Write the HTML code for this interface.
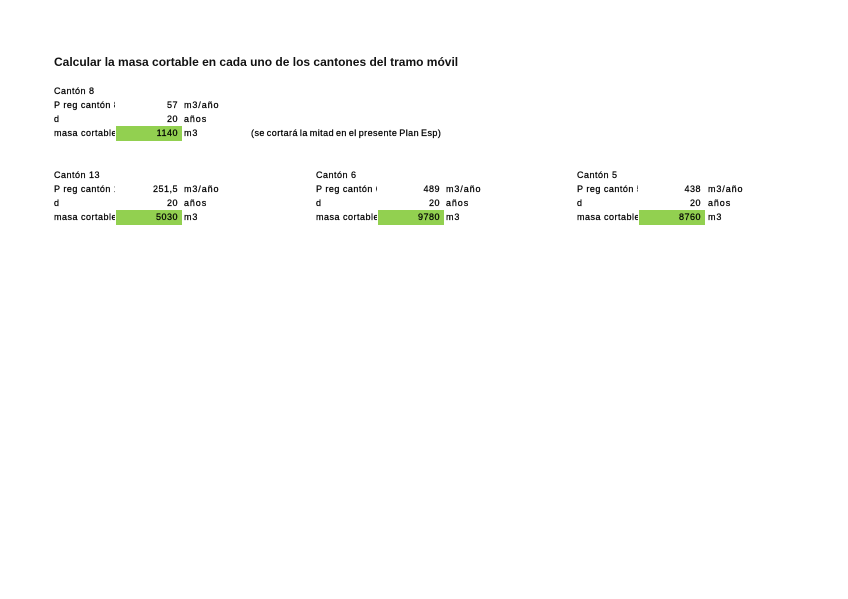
<!DOCTYPE html>
<html>
<head>
<meta charset="utf-8">
<style>
html,body{margin:0;padding:0;background:#fff;}
body{width:848px;height:599px;position:relative;overflow:hidden;font-family:"Liberation Sans",sans-serif;}
.t{position:absolute;font-size:9px;line-height:14px;height:14px;color:#000;white-space:nowrap;font-weight:normal;letter-spacing:0.5px;-webkit-text-stroke:0.25px #000;}
.title{position:absolute;left:54px;top:54px;font-size:12px;font-weight:bold;color:#111;white-space:nowrap;line-height:16px;}
.lab{width:61px;overflow:hidden;}
.val{text-align:right;width:62px;}
.g{position:absolute;background:#92d050;height:15px;width:66px;}
.u{letter-spacing:0.9px;}
</style>
</head>
<body>
<div class="title">Calcular la masa cortable en cada uno de los cantones del tramo móvil</div>

<!-- Canton 8 -->
<div class="g" style="left:116px;top:126px;"></div>
<div class="t" style="left:54px;top:84px;">Cantón 8</div>
<div class="t lab" style="left:54px;top:98px;">P reg cantón 8</div>
<div class="t val" style="left:116px;top:98px;">57</div>
<div class="t u" style="left:184px;top:98px;">m3/año</div>
<div class="t" style="left:54px;top:112px;">d</div>
<div class="t val" style="left:116px;top:112px;">20</div>
<div class="t u" style="left:184px;top:112px;">años</div>
<div class="t lab" style="left:54px;top:126px;">masa cortable</div>
<div class="t val" style="left:116px;top:126px;">1140</div>
<div class="t u" style="left:184px;top:126px;">m3</div>
<div class="t" style="left:251px;top:126px;letter-spacing:0.45px;word-spacing:-1px;">(se cortará la mitad en el presente Plan Esp)</div>

<!-- Canton 13 -->
<div class="g" style="left:116px;top:210px;"></div>
<div class="t" style="left:54px;top:168px;">Cantón 13</div>
<div class="t lab" style="left:54px;top:182px;">P reg cantón 13</div>
<div class="t val" style="left:116px;top:182px;">251,5</div>
<div class="t u" style="left:184px;top:182px;">m3/año</div>
<div class="t" style="left:54px;top:196px;">d</div>
<div class="t val" style="left:116px;top:196px;">20</div>
<div class="t u" style="left:184px;top:196px;">años</div>
<div class="t lab" style="left:54px;top:210px;">masa cortable</div>
<div class="t val" style="left:116px;top:210px;">5030</div>
<div class="t u" style="left:184px;top:210px;">m3</div>

<!-- Canton 6 -->
<div class="g" style="left:378px;top:210px;"></div>
<div class="t" style="left:316px;top:168px;">Cantón 6</div>
<div class="t lab" style="left:316px;top:182px;">P reg cantón 6</div>
<div class="t val" style="left:378px;top:182px;">489</div>
<div class="t u" style="left:446px;top:182px;">m3/año</div>
<div class="t" style="left:316px;top:196px;">d</div>
<div class="t val" style="left:378px;top:196px;">20</div>
<div class="t u" style="left:446px;top:196px;">años</div>
<div class="t lab" style="left:316px;top:210px;">masa cortable</div>
<div class="t val" style="left:378px;top:210px;">9780</div>
<div class="t u" style="left:446px;top:210px;">m3</div>

<!-- Canton 5 -->
<div class="g" style="left:639px;top:210px;"></div>
<div class="t" style="left:577px;top:168px;">Cantón 5</div>
<div class="t lab" style="left:577px;top:182px;">P reg cantón 5</div>
<div class="t val" style="left:639px;top:182px;">438</div>
<div class="t u" style="left:708px;top:182px;">m3/año</div>
<div class="t" style="left:577px;top:196px;">d</div>
<div class="t val" style="left:639px;top:196px;">20</div>
<div class="t u" style="left:708px;top:196px;">años</div>
<div class="t lab" style="left:577px;top:210px;">masa cortable</div>
<div class="t val" style="left:639px;top:210px;">8760</div>
<div class="t u" style="left:708px;top:210px;">m3</div>
</body>
</html>
